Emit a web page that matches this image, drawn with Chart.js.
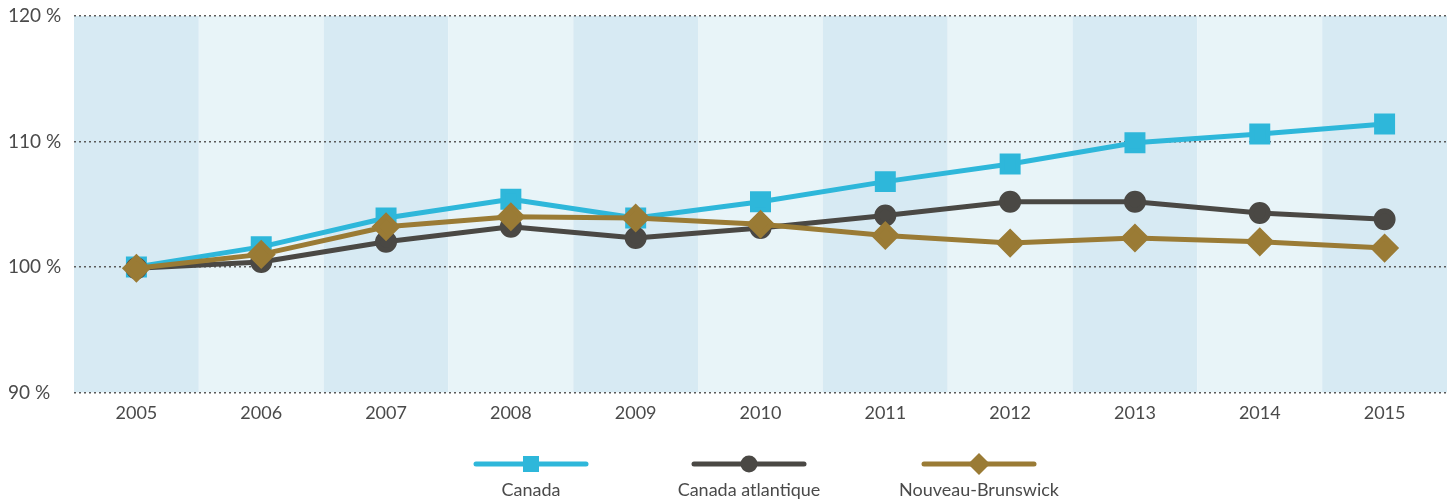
<!DOCTYPE html>
<html>
<head>
<meta charset="utf-8">
<script src="https://cdn.jsdelivr.net/npm/chart.js@4.4.1/dist/chart.umd.min.js"></script>
<style>
  html, body { margin: 0; padding: 0; background: #fff; overflow: hidden; }
  #wrap { width: 1452px; height: 501px; }
  canvas { display: block; }
</style>
</head>
<body>
<div id="wrap"><canvas id="chart" width="1452" height="501"></canvas></div>
<script>
'use strict';

const years = ['2005', '2006', '2007', '2008', '2009', '2010', '2011', '2012', '2013', '2014', '2015'];
const canada = [100.0, 101.6, 103.9, 105.4, 103.9, 105.2, 106.8, 108.2, 109.9, 110.6, 111.4];
const atlantique = [99.9, 100.4, 102.0, 103.2, 102.3, 103.1, 104.1, 105.2, 105.2, 104.3, 103.8];
const nouveauBrunswick = [99.9, 101.0, 103.2, 104.0, 103.9, 103.4, 102.5, 101.9, 102.3, 102.0, 101.5];
const yTicks = [90, 100, 110, 120];

const FONT = 'Lato, "Open Sans", sans-serif';
const TEXT = '#4a4a4a';

// alternating column bands behind the plot
const bandsPlugin = {
  id: 'bands',
  beforeDraw(chart) {
    const { ctx, chartArea, scales } = chart;
    const x = scales.x;
    const half = (x.getPixelForValue(1) - x.getPixelForValue(0)) / 2;
    ctx.save();
    for (let i = 0; i < years.length; i++) {
      const cx = x.getPixelForValue(i);
      ctx.fillStyle = i % 2 === 0 ? '#d7eaf3' : '#e8f4f8';
      ctx.fillRect(cx - half, chartArea.top, half * 2, chartArea.bottom - chartArea.top);
    }
    ctx.restore();
  }
};

// legend: line with marker, label underneath
const legendPlugin = {
  id: 'bottomLegend',
  afterDraw(chart) {
    const ctx = chart.ctx;
    const items = [
      { label: 'Canada', color: '#2eb7da', shape: 'square', x: 531 },
      { label: 'Canada atlantique', color: '#4a4844', shape: 'circle', x: 749 },
      { label: 'Nouveau-Brunswick', color: '#9a7b35', shape: 'diamond', x: 979 }
    ];
    const ly = 464;
    ctx.save();
    items.forEach(it => {
      ctx.strokeStyle = it.color;
      ctx.fillStyle = it.color;
      ctx.lineWidth = 5;
      ctx.lineCap = 'round';
      ctx.beginPath();
      ctx.moveTo(it.x - 55, ly);
      ctx.lineTo(it.x + 55, ly);
      ctx.stroke();
      ctx.beginPath();
      if (it.shape === 'square') {
        ctx.rect(it.x - 8, ly - 8, 16, 16);
      } else if (it.shape === 'circle') {
        ctx.arc(it.x, ly, 8.5, 0, Math.PI * 2);
      } else {
        ctx.moveTo(it.x, ly - 11);
        ctx.lineTo(it.x + 11, ly);
        ctx.lineTo(it.x, ly + 11);
        ctx.lineTo(it.x - 11, ly);
        ctx.closePath();
      }
      ctx.fill();
      ctx.fillStyle = TEXT;
      ctx.font = '18px ' + FONT;
      ctx.textAlign = 'center';
      ctx.textBaseline = 'middle';
      ctx.fillText(it.label, it.x, 490);
    });
    ctx.restore();
  }
};

const data = {
  labels: years,
  datasets: [
    {
      label: 'Canada',
      data: canada,
      borderColor: '#2eb7da',
      backgroundColor: '#2eb7da',
      borderWidth: 5,
      pointStyle: 'rect',
      pointRadius: 11.3,
      pointHoverRadius: 11.3,
      order: 2
    },
    {
      label: 'Canada atlantique',
      data: atlantique,
      borderColor: '#4a4844',
      backgroundColor: '#4a4844',
      borderWidth: 5,
      pointStyle: 'circle',
      pointRadius: 8.5,
      pointHoverRadius: 8.5,
      order: 1
    },
    {
      label: 'Nouveau-Brunswick',
      data: nouveauBrunswick,
      borderColor: '#9a7b35',
      backgroundColor: '#9a7b35',
      borderWidth: 5,
      pointStyle: 'rectRot',
      pointRadius: 11,
      pointHoverRadius: 11,
      order: 0
    }
  ]
};

const config = {
  type: 'line',
  data: data,
  options: {
    responsive: false,
    animation: false,
    layout: { autoPadding: false, padding: { left: 8, right: 5, top: 16, bottom: 75 } },
    plugins: {
      legend: { display: false },
      tooltip: { enabled: false }
    },
    elements: {
      line: { tension: 0, borderJoinStyle: 'round' },
      point: { borderWidth: 0 }
    },
    scales: {
      x: {
        offset: true,
        afterFit(axis) { axis.paddingLeft = 0; axis.paddingRight = 0; },
        grid: { display: false },
        border: { display: false },
        ticks: { color: TEXT, font: { family: FONT, size: 18 }, padding: 2, maxRotation: 0 }
      },
      y: {
        min: 90,
        max: 120,
        afterBuildTicks(axis) { axis.ticks = yTicks.map(v => ({ value: v })); },
        afterFit(axis) { axis.width = 66; axis.paddingTop = 0; axis.paddingBottom = 0; },
        grid: { color: '#5a5a5a', lineWidth: 1.5, drawTicks: false },
        border: { display: false, dash: [2, 3] },
        ticks: {
          color: TEXT,
          font: { family: FONT, size: 19 },
          padding: 10,
          crossAlign: 'far',
          callback: v => v + ' %'
        }
      }
    }
  },
  plugins: [bandsPlugin, legendPlugin]
};

const myChart = new Chart(document.getElementById('chart'), config);
</script>
</body>
</html>
